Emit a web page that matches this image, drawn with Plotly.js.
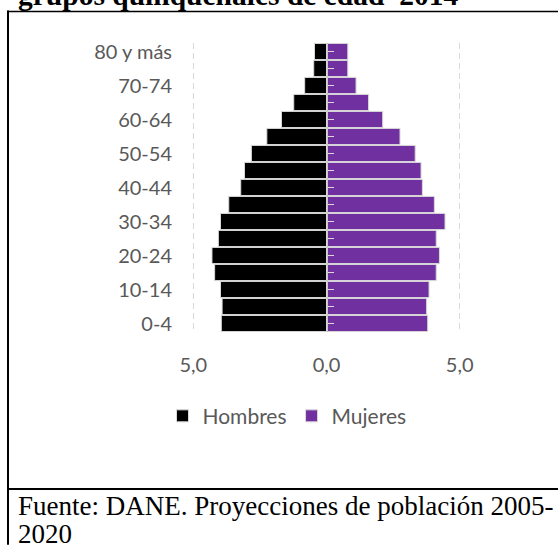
<!DOCTYPE html>
<html>
<head>
<meta charset="utf-8">
<script src="https://cdn.plot.ly/plotly-3.0.1.min.js"></script>
<style>
html,body{margin:0;padding:0;background:#fff;}
#chart{width:558px;height:546px;}
</style>
</head>
<body>
<div id="chart"></div>
<script>
// ---- data ----
var categories = ["0-4","5-9","10-14","15-19","20-24","25-29","30-34","35-39","40-44","45-49","50-54","55-59","60-64","65-69","70-74","75-79","80 y más"];
var hombres = [3.95, 3.92, 3.98, 4.20, 4.30, 4.06, 3.98, 3.67, 3.22, 3.08, 2.82, 2.24, 1.69, 1.23, 0.82, 0.48, 0.45];
var mujeres = [3.80, 3.76, 3.85, 4.12, 4.24, 4.12, 4.45, 4.05, 3.60, 3.55, 3.33, 2.76, 2.11, 1.58, 1.11, 0.80, 0.80];
var xTickVals = [-5, 0, 5];
var xTickText = ["5,0", "0,0", "5,0"];
var seriesNames = ["Hombres", "Mujeres"];
var titleText = "grupos quinquenales de edad\u00a0\u00a02014";
var sourceLine1 = "Fuente: DANE. Proyecciones de población 2005-";
var sourceLine2 = "2020";

// ---- geometry helpers ----
var W = 558, H = 546;
var M = {l: 192, r: 97, t: 42.5, b: 213.5};
var PW = W - M.l - M.r, PH = H - M.t - M.b;
function px(x){ return (x - M.l) / PW; }
function py(y){ return (M.t + PH - y) / PH; }

var tickFont = {family: "Lato, 'Open Sans', sans-serif", size: 20, color: "#595959"};
var legendFont = {family: "Lato, 'Open Sans', sans-serif", size: 21, color: "#595959"};
var serif = "'Liberation Serif', 'Times New Roman', serif";

var traces = [
  {
    type: "bar", orientation: "h", name: seriesNames[0],
    y: categories, x: hombres.map(function(v){ return -v; }),
    marker: {color: "#000000", line: {color: "#d9d9d9", width: 1}},
    xaxis: "x", yaxis: "y", hoverinfo: "skip"
  },
  {
    type: "bar", orientation: "h", name: seriesNames[1],
    y: categories, x: mujeres,
    marker: {color: "#7030a0", line: {color: "#d9d9d9", width: 1}},
    xaxis: "x", yaxis: "y2", hoverinfo: "skip"
  }
];

var layout = {
  width: W, height: H,
  margin: M,
  paper_bgcolor: "#ffffff", plot_bgcolor: "#ffffff",
  barmode: "overlay", bargap: 0.05,
  showlegend: true,
  legend: {
    orientation: "h", x: px(287), xanchor: "center", y: py(417), yanchor: "middle",
    font: legendFont, itemwidth: 30, traceorder: "normal", bgcolor: "rgba(0,0,0,0)"
  },
  xaxis: {
    range: [-5.05, 5.05], tickvals: xTickVals, ticktext: xTickText,
    tickfont: tickFont, showgrid: true, gridcolor: "#d9d9d9", gridwidth: 1.5,
    griddash: "6px,4px", zeroline: false, showline: false, ticks: "",
    ticklabelstandoff: 19, fixedrange: true
  },
  yaxis: {
    type: "category", categoryorder: "array", categoryarray: categories,
    range: [-0.5, 16.5], dtick: 2, tickfont: tickFont, showgrid: false,
    zeroline: false, showline: false, ticks: "", ticklabelstandoff: 19, fixedrange: true
  },
  yaxis2: {
    type: "category", categoryorder: "array", categoryarray: categories,
    range: [-0.5, 16.5], overlaying: "y", anchor: "free", position: 0.5, side: "left",
    showticklabels: false, showgrid: false, zeroline: false,
    showline: true, linecolor: "#c8c8c8", linewidth: 1.5,
    ticks: "inside", ticklen: 6, tickwidth: 1.5, tickcolor: "#d9d9d9", dtick: 1, fixedrange: true
  },
  shapes: [
    {type: "line", xref: "paper", yref: "paper", x0: px(8), x1: px(8), y0: py(10), y1: py(546), line: {color: "#000", width: 2}},
    {type: "line", xref: "paper", yref: "paper", x0: px(7), x1: px(558), y0: py(11), y1: py(11), line: {color: "#000", width: 1.5}},
    {type: "line", xref: "paper", yref: "paper", x0: px(7), x1: px(558), y0: py(490), y1: py(490), line: {color: "#000", width: 2}}
  ],
  annotations: [
    {xref: "paper", yref: "paper", x: px(16), y: py(-6), xanchor: "left", yanchor: "middle",
     text: "<b>" + titleText + "</b>", showarrow: false, font: {family: serif, size: 29.5, color: "#000"}},
    {xref: "paper", yref: "paper", x: px(16), y: py(507), xanchor: "left", yanchor: "middle",
     text: sourceLine1, showarrow: false, font: {family: serif, size: 27, color: "#000"}},
    {xref: "paper", yref: "paper", x: px(16), y: py(535), xanchor: "left", yanchor: "middle",
     text: sourceLine2, showarrow: false, font: {family: serif, size: 27, color: "#000"}}
  ]
};

Plotly.newPlot("chart", traces, layout, {staticPlot: true, displayModeBar: false});
</script>
</body>
</html>
